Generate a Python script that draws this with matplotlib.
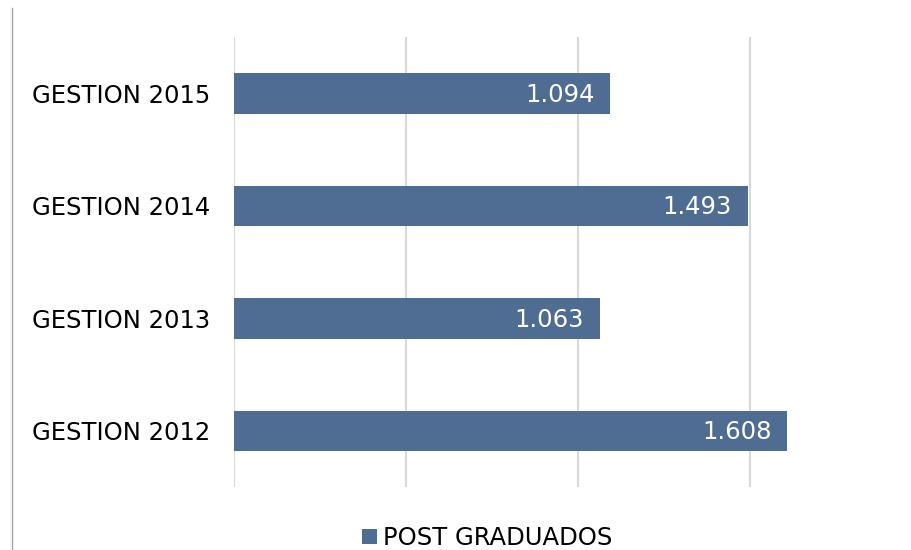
import matplotlib.pyplot as plt
from matplotlib.lines import Line2D
from matplotlib.patches import Patch

categories = ['GESTION 2012', 'GESTION 2013', 'GESTION 2014', 'GESTION 2015']
values = [1608, 1063, 1493, 1094]
value_labels = ['1.608', '1.063', '1.493', '1.094']
series_name = 'POST GRADUADOS'

barColor = '#4F6D93'
gridColor = '#D9D9D9'

fig = plt.figure(figsize=(9.11, 5.5), dpi=100)
ax = fig.add_axes([234 / 911, 1 - 487 / 550, (905 - 234) / 911, 450 / 550])

ypos = range(len(categories))
ax.barh(ypos, values, height=0.36, color=barColor, zorder=2)
ax.set_xlim(0, 1950)
ax.set_ylim(-0.5, 3.5)
ax.set_yticks(list(ypos))
ax.set_yticklabels(categories, fontsize=17.5, color='black')
ax.tick_params(axis='y', length=0, pad=17)
ax.set_xticks([0, 500, 1000, 1500])
ax.tick_params(axis='x', length=0, labelbottom=False)
ax.grid(axis='x', color=gridColor, linewidth=1.5, zorder=0)
for s in ax.spines.values():
    s.set_visible(False)

for y, v, lab in zip(ypos, values, value_labels):
    ax.annotate(lab, xy=(v, y), xytext=(-11.5, -1), textcoords='offset points',
                ha='right', va='center', color='white', fontsize=17.5, zorder=3)

# thin border at the left of the chart
fig.add_artist(Line2D([12 / 911, 12 / 911], [0, 1 - 8 / 550], color='#A6A6A6', linewidth=1))

handles = [Patch(facecolor=barColor, edgecolor='none')]
fig.legend(handles, [series_name], loc='center', bbox_to_anchor=(487 / 911, 1 - 538 / 550),
           frameon=False, fontsize=17.5, handlelength=0.6, handleheight=0.6, handletextpad=0.25)

fig.savefig('out.png', dpi=100)
